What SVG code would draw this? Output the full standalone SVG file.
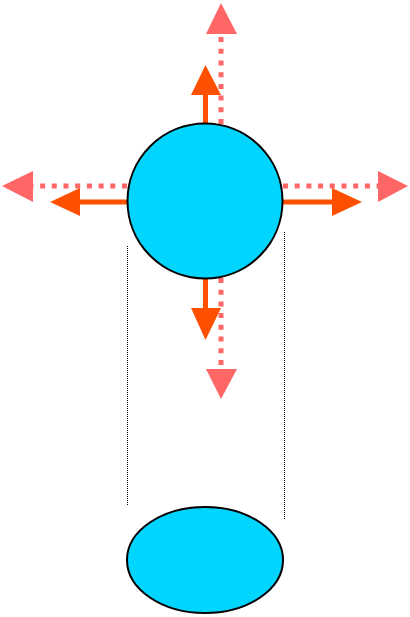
<svg xmlns="http://www.w3.org/2000/svg" width="410" height="617" viewBox="0 0 410 617">
<style>
.node{fill:#00d5ff;stroke:#000;stroke-width:2}
.solid{stroke:#ff5000;stroke-width:5;fill:none}
.sh{fill:#ff5000}
.dot{stroke:#ff6666;stroke-width:5;fill:none;stroke-dasharray:5 6.7}
.dh{fill:#ff6666}
.guide{stroke:#000;stroke-width:1;stroke-dasharray:1 1;fill:none}
</style>
<rect width="410" height="617" fill="#fff"/>
<g id="connectors">
<line class="guide" x1="127.5" y1="246" x2="127.5" y2="505"/>
<line class="guide" x1="284.5" y1="232" x2="284.5" y2="520"/>
<line class="dot" x1="221" y1="124" x2="221" y2="34"/>
<polygon class="dh" points="221,3 206,34 237,34"/>
<line class="dot" x1="127" y1="186" x2="33" y2="186"/>
<polygon class="dh" points="2,186 33,171 33,202"/>
<line class="dot" x1="283" y1="186" x2="378" y2="186"/>
<polygon class="dh" points="408,186 378,171 378,202"/>
<line class="dot" x1="221" y1="278" x2="221" y2="369"/>
<polygon class="dh" points="221,399 206,369 237,369"/>
<line class="solid" x1="205.5" y1="125" x2="205.5" y2="94"/>
<polygon class="sh" points="205.5,65 191,95 221,95"/>
<line class="solid" x1="128" y1="202" x2="79" y2="202"/>
<polygon class="sh" points="50,202 80,188 80,216"/>
<line class="solid" x1="282" y1="202" x2="333" y2="202"/>
<polygon class="sh" points="362,202 332,188 332,216"/>
<line class="solid" x1="205.5" y1="277" x2="205.5" y2="309"/>
<polygon class="sh" points="205.5,340 191,308 221,308"/>
</g>
<g id="node-circle">
<circle class="node" cx="205" cy="201" r="77.5"/>
</g>
<g id="node-ellipse">
<ellipse class="node" cx="205" cy="560" rx="78" ry="53"/>
</g>
</svg>
